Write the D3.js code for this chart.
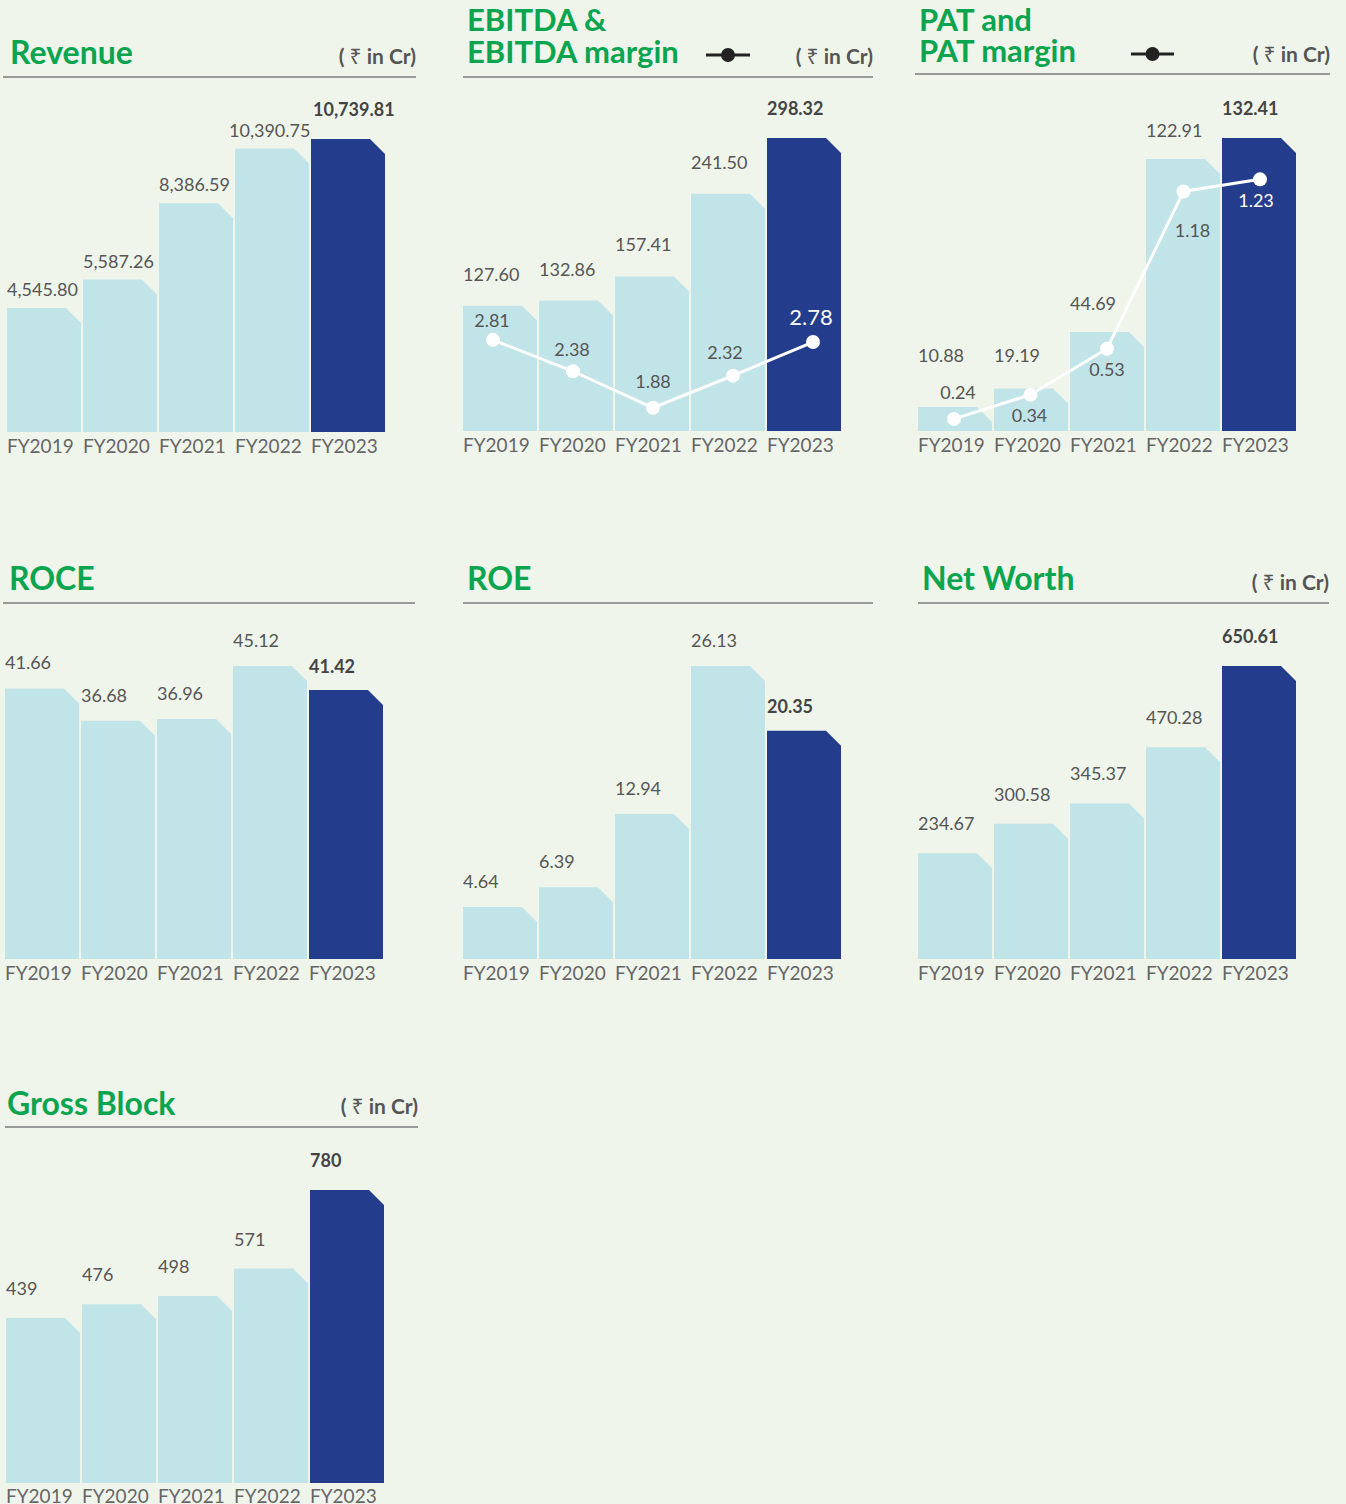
<!DOCTYPE html>
<html><head><meta charset="utf-8">
<script src="https://cdn.jsdelivr.net/npm/d3@7/dist/d3.min.js"></script>
<style>
html,body{margin:0;padding:0;background:#f0f5eb;}
svg{display:block;font-family:Lato,"Noto Sans",sans-serif;}
</style></head>
<body><svg id="c" width="1346" height="1504"></svg>
<script>
// ---------- data ----------
const years = ["FY2019","FY2020","FY2021","FY2022","FY2023"];
const revenue = [4545.80, 5587.26, 8386.59, 10390.75, 10739.81];
const revenueLabels = ["4,545.80","5,587.26","8,386.59","10,390.75","10,739.81"];
const ebitda = [127.60, 132.86, 157.41, 241.50, 298.32];
const ebitdaLabels = ["127.60","132.86","157.41","241.50","298.32"];
const ebitdaMargin = [2.81, 2.38, 1.88, 2.32, 2.78];
const pat = [10.88, 19.19, 44.69, 122.91, 132.41];
const patLabels = ["10.88","19.19","44.69","122.91","132.41"];
const patMargin = [0.24, 0.34, 0.53, 1.18, 1.23];
const roce = [41.66, 36.68, 36.96, 45.12, 41.42];
const roe = [4.64, 6.39, 12.94, 26.13, 20.35];
const netWorth = [234.67, 300.58, 345.37, 470.28, 650.61];
const grossBlock = [439, 476, 498, 571, 780];
const grossBlockLabels = ["439","476","498","571","780"];
const fmt2 = d3.format(".2f");

// ---------- style ----------
const BG = "#f0f5eb", LIGHT = "#c1e4e9", DARK = "#243c8c", GREEN = "#0ba44f",
      TXT = "#555", AX = "#666", RULE = "#7a7a7a";
const svg = d3.select("#c");
svg.append("rect").attr("width",1346).attr("height",1504).attr("fill",BG);

// panel layouts
const panels = [
  {title:["Revenue"], tx:10, ty:[64], tfs:32, unit:true, ux:416, uy:64, rule:[3,416,77],
   x0:7, bottom:432, vals:revenue, labels:revenueLabels, lo:12, blo:23, xlo:21, valDx:[0,0,0,-6,2]},
  {title:["EBITDA &","EBITDA margin"], tx:467, ty:[31,63], tfs:31, unit:true, ux:873, uy:64, rule:[463,873,77],
   legend:[706,750,55], x0:463, bottom:431, vals:ebitda, labels:ebitdaLabels, lo:25, blo:23, xlo:21,
   margin:ebitdaMargin, mZero:545, mPerUnit:73, mx:[30,350], mDy:[-13,-15,-20,-17,-17], mDx:[-1,-1,0,-8,-2]},
  {title:["PAT and","PAT margin"], tx:919, ty:[31,62], tfs:31, unit:true, ux:1330, uy:62, rule:[915,1330,74],
   legend:[1131,1174,54], x0:918, bottom:431, vals:pat, labels:patLabels, lo:22, blo:23, labelCap:362, xlo:21,
   margin:patMargin, mZero:477, mPerUnit:242, mx:[36,342], mDy:[-20,27,27,46,28], mDx:[4,-1,0,9,-4]},
  {title:["ROCE"], tx:9, ty:[590], tfs:32, unit:false, rule:[3,415,603],
   x0:5, bottom:959, vals:roce, labels:roce.map(fmt2), lo:19, blo:17, xlo:21},
  {title:["ROE"], tx:467, ty:[590], tfs:32, unit:false, rule:[463,873,603],
   x0:463, bottom:959, vals:roe, labels:roe.map(fmt2), lo:19, blo:18, xlo:21},
  {title:["Net Worth"], tx:922, ty:[590], tfs:32, unit:true, ux:1329, uy:590, rule:[918,1329,603],
   x0:918, bottom:959, vals:netWorth, labels:netWorth.map(fmt2), lo:23, blo:23, xlo:21},
  {title:["Gross Block"], tx:7, ty:[1115], tfs:32, unit:true, ux:418, uy:1114, rule:[5,418,1127],
   x0:6, bottom:1483, vals:grossBlock, labels:grossBlockLabels, lo:23, blo:23, xlo:20}
];

const BAR_MAX_H = 293, CUT = 15;

panels.forEach(p => {
  const g = svg.append("g");
  // title
  p.title.forEach((t,i) => {
    g.append("text").attr("x",p.tx).attr("y",p.ty[i]).attr("fill",GREEN)
      .attr("font-size",p.tfs).attr("font-weight",700).text(t);
  });
  if (p.unit) {
    const u = g.append("text").attr("x",p.ux).attr("y",p.uy).attr("text-anchor","end")
      .attr("fill",TXT).attr("font-size",21).attr("font-weight",700);
    u.append("tspan").text("( ");
    u.append("tspan").attr("font-weight",400).attr("font-family","'Noto Sans',sans-serif").attr("font-size",21).text("₹");
    u.append("tspan").text(" in Cr)");
  }
  g.append("line").attr("x1",p.rule[0]).attr("x2",p.rule[1]).attr("y1",p.rule[2]).attr("y2",p.rule[2])
    .attr("stroke",RULE).attr("stroke-width",1.6);
  if (p.legend) {
    const [a,b,y] = p.legend;
    g.append("line").attr("x1",a).attr("x2",b).attr("y1",y).attr("y2",y).attr("stroke","#222").attr("stroke-width",3);
    g.append("circle").attr("cx",(a+b)/2).attr("cy",y).attr("r",7).attr("fill","#222");
  }

  const x = d3.scaleBand().domain(years).range([p.x0, p.x0 + 378]).paddingInner(2/76).paddingOuter(0);
  const y = d3.scaleLinear().domain([0, d3.max(p.vals)]).range([p.bottom, p.bottom - BAR_MAX_H]);
  const w = x.bandwidth();
  const data = years.map((yr,i) => ({yr, v:p.vals[i], lab:p.labels[i], i}));

  g.selectAll("path.bar").data(data).join("path").attr("class","bar")
    .attr("fill", d => d.i === 4 ? DARK : LIGHT)
    .attr("d", d => {
      const x0 = x(d.yr), x1 = x0 + w, t = y(d.v), b = y(0);
      const c = Math.min(CUT, (b - t));
      return `M${x0},${b}V${t}H${x1 - c}L${x1},${t + c}V${b}Z`;
    });

  // value labels
  g.selectAll("text.val").data(data).join("text").attr("class","val")
    .attr("x", d => x(d.yr) + (p.valDx ? p.valDx[d.i] : 0))
    .attr("y", d => {
      let yy = y(d.v) - (d.i === 4 ? p.blo : p.lo);
      if (p.labelCap) yy = Math.min(yy, p.labelCap);
      return yy;
    })
    .attr("fill", d => d.i === 4 ? "#444" : TXT)
    .attr("font-weight", d => d.i === 4 ? 700 : 400)
    .attr("font-size", 18)
    .text(d => d.lab);

  // x labels
  g.selectAll("text.xl").data(data).join("text").attr("class","xl")
    .attr("x", d => x(d.yr)).attr("y", p.bottom + p.xlo)
    .attr("fill", AX).attr("font-size", 19).text(d => d.yr);

  if (p.margin) {
    const xm = d3.scalePoint().domain(years).range([p.x0 + p.mx[0], p.x0 + p.mx[1]]);
    const ym = d3.scaleLinear().domain([0, 1]).range([p.mZero, p.mZero - p.mPerUnit]);
    const md = years.map((yr,i) => ({yr, v:p.margin[i], i}));
    g.append("path").datum(md).attr("fill","none").attr("stroke","#fff").attr("stroke-width",3)
      .attr("d", d3.line().x(d => xm(d.yr)).y(d => ym(d.v)));
    g.selectAll("circle.pt").data(md).join("circle").attr("class","pt")
      .attr("cx", d => xm(d.yr)).attr("cy", d => ym(d.v)).attr("r", 7).attr("fill","#fff");
    g.selectAll("text.ml").data(md).join("text").attr("class","ml")
      .attr("x", d => xm(d.yr) + p.mDx[d.i]).attr("y", d => ym(d.v) + p.mDy[d.i])
      .attr("text-anchor","middle")
      .attr("fill", d => (d.i === 4) ? "#fff" : TXT)
      .attr("font-size", d => (d.i === 4 && p.title[0].startsWith("EBITDA")) ? 22 : 18)
      .text(d => fmt2(d.v));
  }
});
</script></body></html>
